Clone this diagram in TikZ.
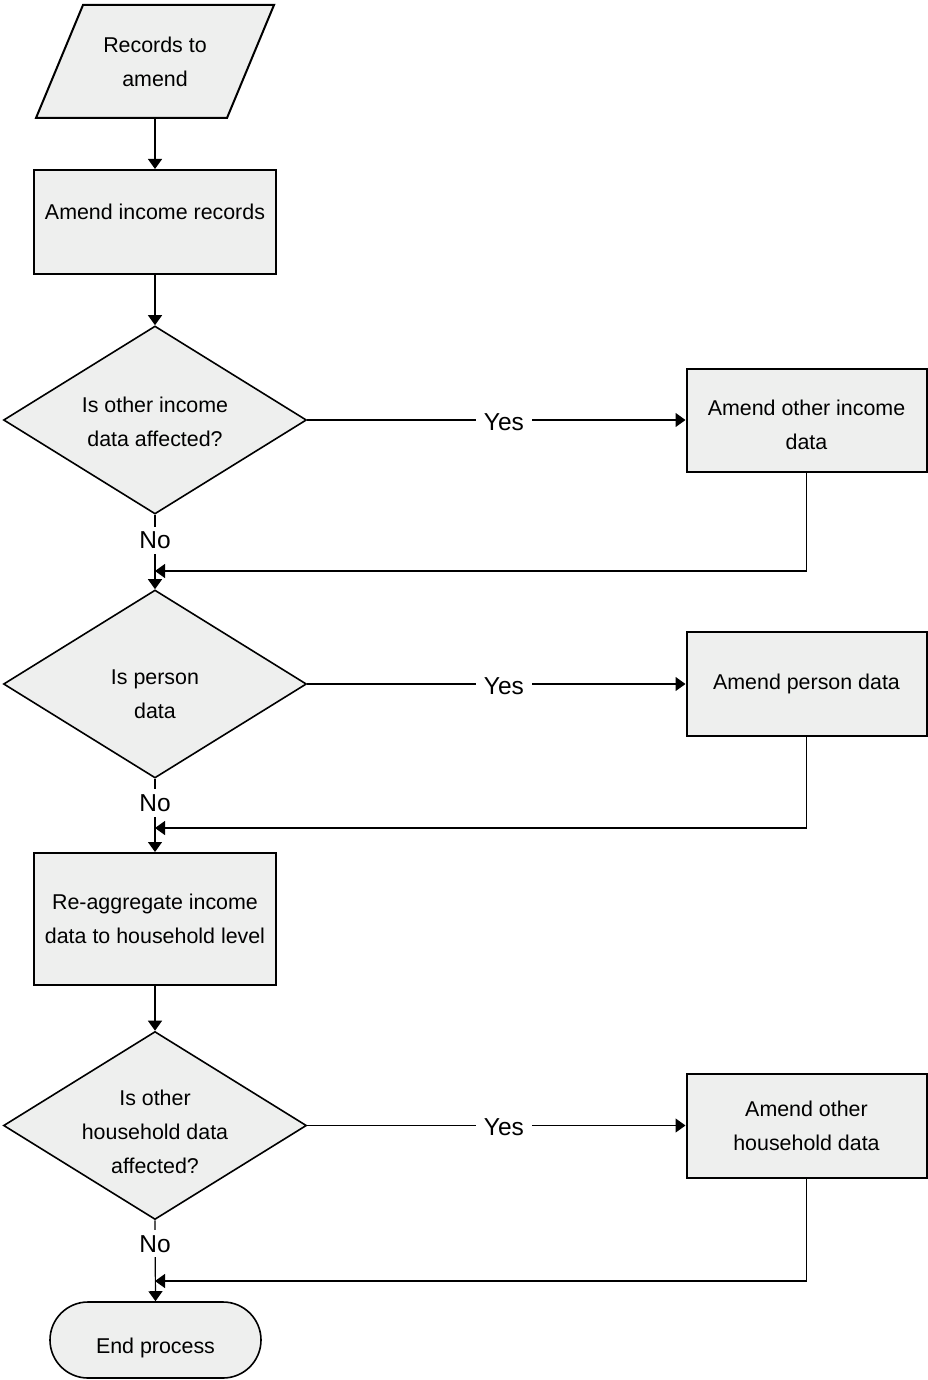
\documentclass[tikz,border=0pt]{standalone}
\usepackage{fontspec}
\setmainfont{Liberation Sans}
\usetikzlibrary{shapes.geometric,arrows.meta}
\definecolor{boxfill}{RGB}{238,239,238}
\begin{document}
\begin{tikzpicture}[x=1pt,y=-1pt,
  every node/.style={font=\fontsize{21.4}{34}\selectfont},
  shapeline/.style={draw=black,line width=2pt,fill=boxfill,line join=miter},
  proc/.style={shapeline,rectangle,inner sep=0pt,align=center},
  dec/.style={draw=black,line width=1.6pt,fill=boxfill,diamond,inner sep=0pt,minimum width=303pt,minimum height=188pt},
  conn/.style={line width=1.2pt,draw=black},
  arr/.style={conn,-{Triangle[width=14pt,length=10pt]}},
  lab/.style={fill=white,inner xsep=8pt,inner ysep=5pt,text=black,font=\fontsize{24.5}{30}\selectfont}
]
\useasboundingbox (0,0) rectangle (927,1380);

% input parallelogram
\draw[shapeline] (83,5) -- (274,5) -- (227,118) -- (36,118) -- cycle;
\node[align=center,minimum height=113pt,inner sep=0pt] (in) at (155,61.5) {Records to\\amend};

% boxes
\node[proc,minimum width=242pt,minimum height=104pt] (b1) at (155,222) {\raisebox{20pt}{Amend income records}};
\node[dec,label={[align=center,yshift=-2pt]center:Is other income\\data affected?}] (d1) at (155,420) {};
\node[proc,minimum width=240pt,minimum height=103pt,label={[align=center,yshift=-5pt]center:Amend other income\\data}] (b2) at (806.5,420) {};

\node[dec,label={[align=center,yshift=-10pt]center:Is person\\data}] (d2) at (155,684) {};
\node[proc,minimum width=240pt,minimum height=104pt] (b3) at (806.5,684) {Amend person data};

\node[proc,minimum width=242pt,minimum height=132pt] (b4) at (155,919) {Re-aggregate income\\data to household level};

\node[dec,label={[align=center,yshift=-6pt]center:Is other\\household data\\affected?}] (d3) at (155,1125.5) {};
\node[proc,minimum width=240pt,minimum height=104pt] (b5) at (806.5,1125.5) {Amend other\\household data};

\node[proc,minimum width=211pt,minimum height=76pt,rounded corners=38pt,line width=1.6pt,label={[yshift=-8pt]center:End process}] (end) at (155.5,1340) {};

% merge points
\coordinate (m1) at (155,571);
\coordinate (m2) at (155,828);
\coordinate (m3) at (155,1281);

% connectors
\draw[arr] (in.south) -- (b1.north);
\draw[arr] (b1.south) -- (d1.north);
\draw[arr] (d1.east) -- node[lab,pos=0.52,yshift=-2pt] {Yes} (b2.west);
\draw[arr] (d1.south) -- node[lab,pos=0.34] {No} (d2.north);
\draw[arr] (b2.south) |- (m1);

\draw[arr] (d2.east) -- node[lab,pos=0.52,yshift=-2pt] {Yes} (b3.west);
\draw[arr] (d2.south) -- node[lab,pos=0.33] {No} (b4.north);
\draw[arr] (b3.south) |- (m2);

\draw[arr] (b4.south) -- (d3.north);
\draw[arr] (d3.east) -- node[lab,pos=0.52,yshift=-2pt] {Yes} (b5.west);
\draw[arr] (d3.south) -- node[lab,pos=0.29] {No} (end.north);
\draw[arr] (b5.south) |- (m3);
\end{tikzpicture}
\end{document}
